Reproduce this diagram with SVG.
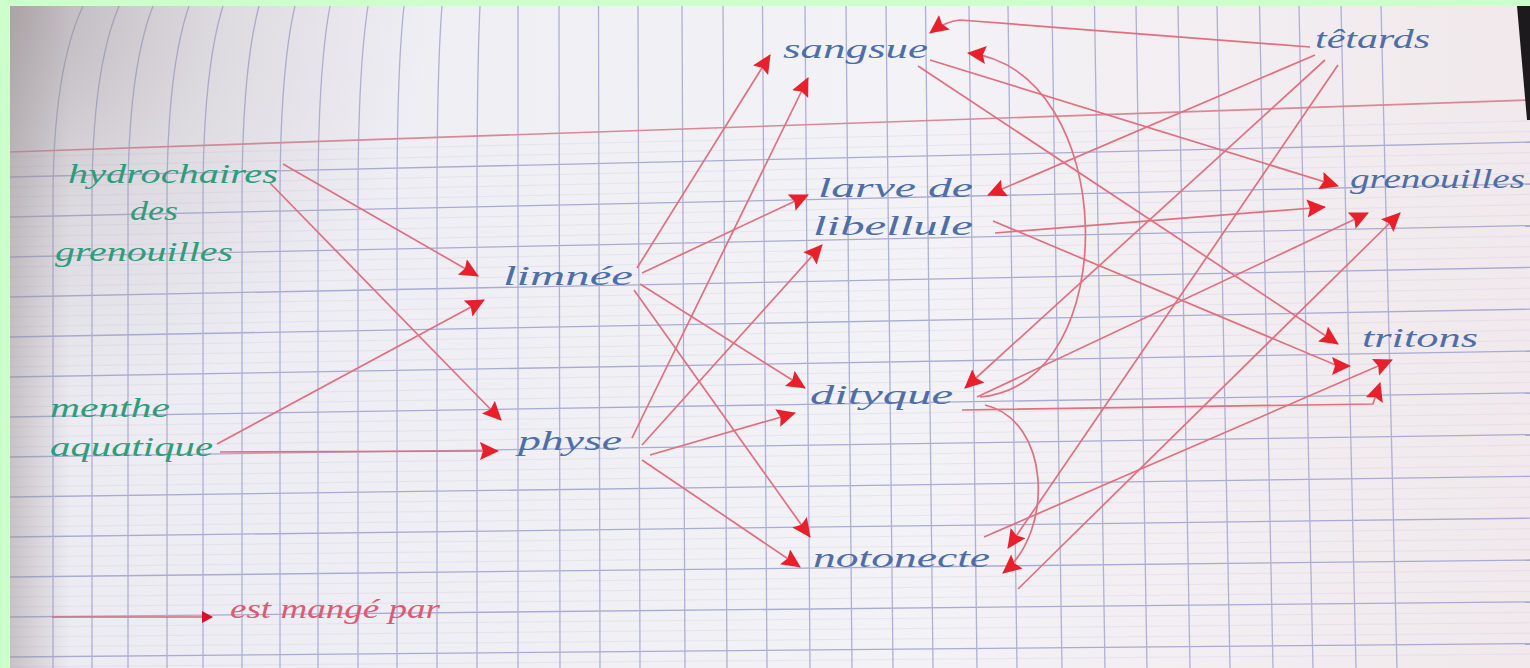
<svg xmlns="http://www.w3.org/2000/svg" width="1530" height="668" viewBox="0 0 1530 668">
<defs>
<style>
.vl{stroke:#aeb0d6;stroke-width:1.3;fill:none}
.hl{stroke:#a9abd2;stroke-width:1.3}
.hm{stroke:#c8c8e0;stroke-width:0.8;opacity:0.35}
.cn{stroke:#e06f80;stroke-width:1.7;fill:none;marker-end:url(#ah)}
.t{font-family:"Liberation Serif","DejaVu Serif",serif;font-style:italic;font-size:28px}
.blue{fill:#4d6ea6}
.green{fill:#2f9c7a}
.red{fill:#dc5a74}
</style>
<marker id="ah" markerUnits="userSpaceOnUse" markerWidth="22" markerHeight="20" refX="18" refY="9" orient="auto">
<path d="M0,0 L19,9 L0,18 L3,9 z" fill="#e8202c"/>
</marker>
<marker id="ahs" markerUnits="userSpaceOnUse" markerWidth="14" markerHeight="14" refX="10" refY="6" orient="auto">
<path d="M0,0 L11,6 L0,12 z" fill="#d8102a"/>
</marker>
<radialGradient id="tl" cx="10" cy="6" r="420" gradientUnits="userSpaceOnUse">
<stop offset="0" stop-color="#8f8486" stop-opacity="0.55"/>
<stop offset="0.5" stop-color="#9a9094" stop-opacity="0.2"/>
<stop offset="1" stop-color="#a09a9c" stop-opacity="0"/>
</radialGradient>
<linearGradient id="lf" x1="10" y1="0" x2="70" y2="0" gradientUnits="userSpaceOnUse">
<stop offset="0" stop-color="#9a8f90" stop-opacity="0.45"/>
<stop offset="1" stop-color="#9a8f90" stop-opacity="0"/>
</linearGradient>
<linearGradient id="pp" x1="0" y1="0" x2="1530" y2="0" gradientUnits="userSpaceOnUse">
<stop offset="0" stop-color="#ecebf2"/>
<stop offset="0.6" stop-color="#f3f2f6"/>
<stop offset="1" stop-color="#f1e9ec"/>
</linearGradient>
</defs>

<rect x="0" y="0" width="1530" height="668" fill="#ccffcc"/>
<rect x="10" y="6" width="1520" height="662" fill="url(#pp)"/>

<g id="paper-grid">
<g>
<line class="hm" x1="10" y1="157" x2="1530" y2="121"/>
<line class="hm" x1="10" y1="167" x2="1530" y2="131.5"/>
<line class="hl" x1="10" y1="177" x2="1530" y2="142"/>
<line class="hm" x1="10" y1="187" x2="1530" y2="152.5"/>
<line class="hm" x1="10" y1="197" x2="1530" y2="163"/>
<line class="hm" x1="10" y1="207" x2="1530" y2="173.4"/>
<line class="hl" x1="10" y1="217" x2="1530" y2="183.8"/>
<line class="hm" x1="10" y1="227" x2="1530" y2="194.3"/>
<line class="hm" x1="10" y1="237" x2="1530" y2="204.7"/>
<line class="hm" x1="10" y1="247" x2="1530" y2="215.2"/>
<line class="hl" x1="10" y1="257" x2="1530" y2="225.6"/>
<line class="hm" x1="10" y1="267" x2="1530" y2="236"/>
<line class="hm" x1="10" y1="277" x2="1530" y2="246.5"/>
<line class="hm" x1="10" y1="287" x2="1530" y2="257"/>
<line class="hl" x1="10" y1="297" x2="1530" y2="267.4"/>
<line class="hm" x1="10" y1="307" x2="1530" y2="277.9"/>
<line class="hm" x1="10" y1="317" x2="1530" y2="288.3"/>
<line class="hm" x1="10" y1="327" x2="1530" y2="298.8"/>
<line class="hl" x1="10" y1="337" x2="1530" y2="309.2"/>
<line class="hm" x1="10" y1="347" x2="1530" y2="319.7"/>
<line class="hm" x1="10" y1="357" x2="1530" y2="330.1"/>
<line class="hm" x1="10" y1="367" x2="1530" y2="340.6"/>
<line class="hl" x1="10" y1="377" x2="1530" y2="351"/>
<line class="hm" x1="10" y1="387" x2="1530" y2="361.5"/>
<line class="hm" x1="10" y1="397" x2="1530" y2="371.9"/>
<line class="hm" x1="10" y1="407" x2="1530" y2="382.4"/>
<line class="hl" x1="10" y1="417" x2="1530" y2="392.8"/>
<line class="hm" x1="10" y1="427" x2="1530" y2="403.3"/>
<line class="hm" x1="10" y1="437" x2="1530" y2="413.7"/>
<line class="hm" x1="10" y1="447" x2="1530" y2="424.2"/>
<line class="hl" x1="10" y1="457" x2="1530" y2="434.6"/>
<line class="hm" x1="10" y1="467" x2="1530" y2="445.1"/>
<line class="hm" x1="10" y1="477" x2="1530" y2="455.5"/>
<line class="hm" x1="10" y1="487" x2="1530" y2="466"/>
<line class="hl" x1="10" y1="497" x2="1530" y2="476.4"/>
<line class="hm" x1="10" y1="507" x2="1530" y2="486.9"/>
<line class="hm" x1="10" y1="517" x2="1530" y2="497.3"/>
<line class="hm" x1="10" y1="527" x2="1530" y2="507.8"/>
<line class="hl" x1="10" y1="537" x2="1530" y2="518.2"/>
<line class="hm" x1="10" y1="547" x2="1530" y2="528.7"/>
<line class="hm" x1="10" y1="557" x2="1530" y2="539.1"/>
<line class="hm" x1="10" y1="567" x2="1530" y2="549.6"/>
<line class="hl" x1="10" y1="577" x2="1530" y2="560"/>
<line class="hm" x1="10" y1="587" x2="1530" y2="570.5"/>
<line class="hm" x1="10" y1="597" x2="1530" y2="580.9"/>
<line class="hm" x1="10" y1="607" x2="1530" y2="591.4"/>
<line class="hl" x1="10" y1="617" x2="1530" y2="601.8"/>
<line class="hm" x1="10" y1="627" x2="1530" y2="612.3"/>
<line class="hm" x1="10" y1="637" x2="1530" y2="622.7"/>
<line class="hm" x1="10" y1="647" x2="1530" y2="633.2"/>
<line class="hl" x1="10" y1="657" x2="1530" y2="643.6"/>
<line class="hm" x1="10" y1="667" x2="1530" y2="654.1"/>
</g>
<g>
<path class="vl" d="M53,668 L53,200 Q53,70 83,6"/>
<path class="vl" d="M92,668 L92,200 Q92,70 119,6"/>
<path class="vl" d="M128,668 L128,200 Q128,70 153,6"/>
<path class="vl" d="M167,668 L167,200 Q167,70 189,6"/>
<path class="vl" d="M203,668 L203,200 Q203,70 223,6"/>
<path class="vl" d="M242,668 L242,200 Q242,70 259,6"/>
<path class="vl" d="M280,668 L280,200 Q280,70 295,6"/>
<path class="vl" d="M318,668 L318,200 Q318,70 330,6"/>
<path class="vl" d="M358,668 L358,200 Q358,70 368,6"/>
<path class="vl" d="M397,668 L397,200 Q397,70 404,6"/>
<path class="vl" d="M437,668 L437,200 Q437,70 442,6"/>
<path class="vl" d="M477,668 L477,200 Q477,70 480,6"/>
<path class="vl" d="M518,668 L518,6"/>
<path class="vl" d="M560,668 L559,6"/>
<path class="vl" d="M600,668 L598.5,6"/>
<path class="vl" d="M640,668 L638,6"/>
<path class="vl" d="M685,668 L682,6"/>
<path class="vl" d="M727,668 L723,6"/>
<path class="vl" d="M767,668 L762.5,6"/>
<path class="vl" d="M810,668 L805,6"/>
<path class="vl" d="M852,668 L846,6"/>
<path class="vl" d="M893,668 L886,6"/>
<path class="vl" d="M933,668 L925.5,6"/>
<path class="vl" d="M977,668 L969,6"/>
<path class="vl" d="M1017,668 L1008,6"/>
<path class="vl" d="M1062,668 L1052,6"/>
<path class="vl" d="M1105,668 L1094.5,6"/>
<path class="vl" d="M1147,668 L1136,6"/>
<path class="vl" d="M1190,668 L1178,6"/>
<path class="vl" d="M1230,668 L1217,6"/>
<path class="vl" d="M1273,668 L1259.5,6"/>
<path class="vl" d="M1313,668 L1299,6"/>
<path class="vl" d="M1356,668 L1341,6"/>
<path class="vl" d="M1397,668 L1381,6"/>
</g>
<line x1="10" y1="152" x2="1530" y2="100" stroke="#d98896" stroke-width="1.6"/>
<rect x="10" y="6" width="1520" height="662" fill="url(#tl)"/>
<rect x="10" y="6" width="60" height="662" fill="url(#lf)"/>
<polygon points="1517,6 1530,6 1530,120 1527,120" fill="#1c1a1c"/>
</g>

<g id="connectors">
<path class="cn" d="M283,164 L478,276"/>
<path class="cn" d="M217,444 L484,300"/>
<path class="cn" d="M270,183 L501,420"/>
<path class="cn" d="M220,452 L498,451"/>
<path class="cn" d="M637,268 L770,55"/>
<path class="cn" d="M632,438 L808,78"/>
<path class="cn" d="M642,273 L808,195"/>
<path class="cn" d="M642,445 L822,245"/>
<path class="cn" d="M640,284 L805,388"/>
<path class="cn" d="M650,455 L795,413"/>
<path class="cn" d="M634,290 L810,537"/>
<path class="cn" d="M642,460 L800,567"/>
<path class="cn" d="M1310,47 L960,20 Q946,21 930,33"/>
<path class="cn" d="M1315,55 L988,195"/>
<path class="cn" d="M1325,60 L965,388"/>
<path class="cn" d="M1338,65 L1008,548"/>
<path class="cn" d="M980,397 C1125,385 1120,70 968,53"/>
<path class="cn" d="M985,405 C1050,420 1055,530 1003,573"/>
<path class="cn" d="M930,60 L1338,186"/>
<path class="cn" d="M918,66 L1338,344"/>
<path class="cn" d="M995,233 L1325,207"/>
<path class="cn" d="M993,221 L1338,366 L1350,366"/>
<path class="cn" d="M977,397 L1368,213"/>
<path class="cn" d="M962,410 L1373,404 L1380,383"/>
<path class="cn" d="M1018,589 L1400,213"/>
<path class="cn" d="M984,537 L1392,360"/>
</g>

<g id="hydrochaires">
<text class="t green" x="68" y="183" textLength="210" lengthAdjust="spacingAndGlyphs">hydrochaires</text>
<text class="t green" x="130" y="220" textLength="48" lengthAdjust="spacingAndGlyphs">des</text>
<text class="t green" x="55" y="261" textLength="178" lengthAdjust="spacingAndGlyphs">grenouilles</text>
</g>
<g id="menthe">
<text class="t green" x="50" y="417" textLength="120" lengthAdjust="spacingAndGlyphs">menthe</text>
<text class="t green" x="50" y="456" textLength="163" lengthAdjust="spacingAndGlyphs">aquatique</text>
</g>
<g id="limnee">
<text class="t blue" x="503" y="285" textLength="130" lengthAdjust="spacingAndGlyphs">limnée</text>
</g>
<g id="physe">
<text class="t blue" x="518" y="450" textLength="104" lengthAdjust="spacingAndGlyphs">physe</text>
</g>
<g id="sangsue">
<text class="t blue" x="783" y="58" textLength="145" lengthAdjust="spacingAndGlyphs">sangsue</text>
</g>
<g id="larve">
<text class="t blue" x="818" y="197" textLength="155" lengthAdjust="spacingAndGlyphs">larve de</text>
<text class="t blue" x="813" y="235" textLength="160" lengthAdjust="spacingAndGlyphs">libellule</text>
</g>
<g id="dityque">
<text class="t blue" x="810" y="404" textLength="143" lengthAdjust="spacingAndGlyphs">dityque</text>
</g>
<g id="notonecte">
<text class="t blue" x="813" y="567" textLength="177" lengthAdjust="spacingAndGlyphs">notonecte</text>
</g>
<g id="tetards">
<text class="t blue" x="1315" y="48" textLength="115" lengthAdjust="spacingAndGlyphs">têtards</text>
</g>
<g id="grenouilles">
<text class="t blue" x="1350" y="188" textLength="175" lengthAdjust="spacingAndGlyphs">grenouilles</text>
</g>
<g id="tritons">
<text class="t blue" x="1362" y="347" textLength="116" lengthAdjust="spacingAndGlyphs">tritons</text>
</g>
<g id="legend">
<line x1="52" y1="617" x2="212" y2="617" stroke="#d86a7e" stroke-width="1.7" marker-end="url(#ahs)"/>
<text class="t red" x="230" y="618" textLength="210" lengthAdjust="spacingAndGlyphs">est mangé par</text>
</g>
</svg>
